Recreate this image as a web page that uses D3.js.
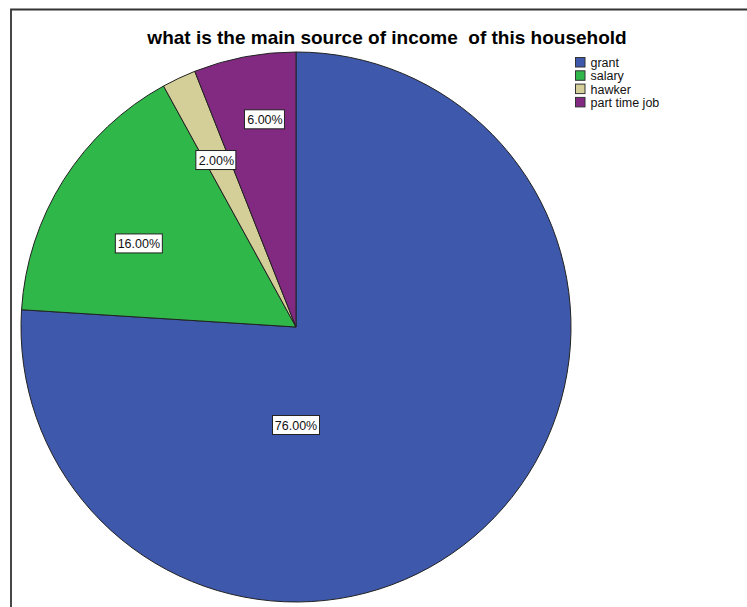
<!DOCTYPE html>
<html>
<head>
<meta charset="utf-8">
<script src="https://cdn.jsdelivr.net/npm/d3@7"></script>
<style>
  body { margin: 0; background: #fff; }
  text { font-family: "Liberation Sans", Arial, sans-serif; }
</style>
</head>
<body>
<div id="chart"></div>
<script>
const width = 747, height = 607;

// data
const categories = ['grant', 'salary', 'hawker', 'part time job'];
const percents = [76, 16, 2, 6];
const colors = ['#3e58ab', '#2fb74a', '#d4cf98', '#822a82'];
const title = 'what is the main source of income  of this household';

const cx = 296, cy = 327, radius = 275;

const svg = d3.select('#chart').append('svg')
    .attr('width', width)
    .attr('height', height);

// frame (top and left edge visible)
svg.append('path')
    .attr('d', 'M11,' + height + 'L11,9.5L' + width + ',9.5')
    .attr('fill', 'none')
    .attr('stroke', '#333')
    .attr('stroke-width', 1.8);

svg.append('text')
    .attr('x', 387)
    .attr('y', 43.5)
    .attr('text-anchor', 'middle')
    .attr('font-size', 19)
    .attr('font-weight', 'bold')
    .attr('xml:space', 'preserve')
    .style('white-space', 'pre')
    .text(title);

const data = categories.map((c, i) => ({name: c, value: percents[i], color: colors[i]}));

const pie = d3.pie().sort(null).value(d => d.value);
const arc = d3.arc().innerRadius(0).outerRadius(radius);
const arcs = pie(data);

const g = svg.append('g').attr('transform', 'translate(' + cx + ',' + cy + ')');

g.selectAll('path')
    .data(arcs)
    .enter().append('path')
    .attr('d', arc)
    .attr('fill', d => d.data.color)
    .attr('stroke', '#222')
    .attr('stroke-width', 1);

// label placement (angle in degrees clockwise from top, distance from centre)
const labelPlace = {
    'grant': [180, 98],
    'salary': [298, 178],
    'hawker': [334.5, 185],
    'part time job': [351.5, 210]
};

const fmt = d3.format('.2f');
const labels = g.selectAll('g.label')
    .data(arcs)
    .enter().append('g')
    .attr('class', 'label')
    .attr('transform', d => {
        const p = labelPlace[d.data.name];
        const a = p[0] * Math.PI / 180;
        return 'translate(' + (p[1] * Math.sin(a)) + ',' + (-p[1] * Math.cos(a)) + ')';
    });

labels.append('rect')
    .attr('fill', '#fff')
    .attr('stroke', '#222')
    .attr('stroke-width', 1);

labels.append('text')
    .attr('text-anchor', 'middle')
    .attr('dy', '0.36em')
    .attr('font-size', 12.5)
    .attr('fill', '#111')
    .text(d => fmt(d.data.value) + '%');

labels.each(function() {
    const t = d3.select(this).select('text').node().getBBox();
    d3.select(this).select('rect')
        .attr('x', Math.round(t.x) - 2.5)
        .attr('y', -9.5)
        .attr('width', Math.round(t.width) + 5)
        .attr('height', 19);
});

// legend
const legend = svg.append('g').attr('transform', 'translate(575,57)');
const rows = legend.selectAll('g')
    .data(data)
    .enter().append('g')
    .attr('transform', (d, i) => 'translate(0,' + (i * 13.3) + ')');

rows.append('rect')
    .attr('x', 0.5)
    .attr('y', 0.5)
    .attr('width', 9.5)
    .attr('height', 9.5)
    .attr('fill', d => d.color)
    .attr('stroke', '#333')
    .attr('stroke-width', 1);

rows.append('text')
    .attr('x', 15.5)
    .attr('y', 10)
    .attr('font-size', 12.5)
    .attr('fill', '#111')
    .text(d => d.name);
</script>
</body>
</html>
